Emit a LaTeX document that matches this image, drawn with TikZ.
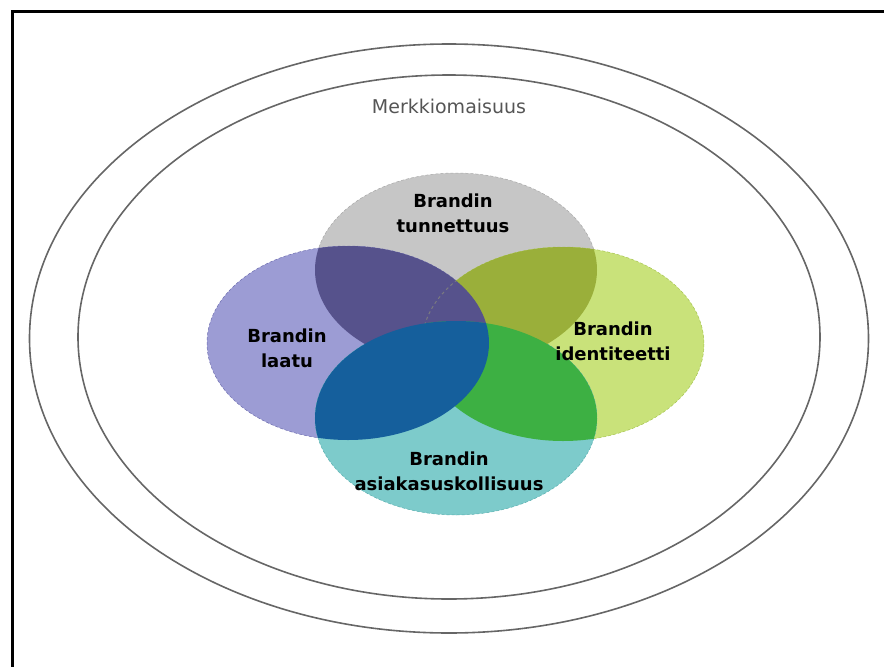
\documentclass[tikz,border=0pt]{standalone}
\usepackage{fontspec}
\setmainfont{DejaVu Sans}
\usepackage{tikz}
\definecolor{ringStroke}{HTML}{666666}
\definecolor{titleTxt}{HTML}{555555}
\definecolor{grayFill}{HTML}{C6C6C6}
\definecolor{grayStroke}{HTML}{A8A8A8}
\definecolor{purpleFill}{HTML}{9C9CD4}
\definecolor{purpleStroke}{HTML}{6E6EB0}
\definecolor{limeFill}{HTML}{C9E27A}
\definecolor{limeStroke}{HTML}{A6C450}
\definecolor{tealFill}{HTML}{7DCBCB}
\definecolor{tealStroke}{HTML}{5AB0B0}
\definecolor{plumFill}{HTML}{56528C}
\definecolor{plumStroke}{HTML}{7A7A80}
\definecolor{oliveFill}{HTML}{9AAF3A}
\definecolor{greenFill}{HTML}{3DB043}
\definecolor{navyFill}{HTML}{155F9C}
\tikzset{
  blob/.style={x radius=141, y radius=97},
  ring/.style={draw=ringStroke, line width=1.6pt},
  frame/.style={draw=black, line width=3pt},
  venntxt/.style={align=center, text=black,
    font=\bfseries\fontsize{18}{25}\selectfont},
  titletxt/.style={text=titleTxt, font=\fontsize{19}{22}\selectfont},
}

\begin{document}
\begin{tikzpicture}[x=1pt, y=-1pt]
    \useasboundingbox (0,0) rectangle (884,667);
    \draw[frame] (12.5,667) -- (12.5,11.5) -- (884,11.5);

    \draw[ring] (449,338.5) ellipse [x radius=419.5, y radius=294.5];
    \draw[ring] (449,337) ellipse [x radius=371, y radius=262];
    \node[titletxt, anchor=base] (merkki) at (449,113) {Merkkiomaisuus};

    \coordinate (cT) at (456,270);
    \coordinate (cL) at (348,343);
    \coordinate (cR) at (563,344);
    \coordinate (cB) at (456,418);

    \fill[grayFill, draw=grayStroke, densely dashed, line width=0.5pt] (cT) ellipse [blob];
    \fill[purpleFill, draw=purpleStroke, densely dashed, line width=0.5pt] (cL) ellipse [blob];
    \fill[limeFill, draw=limeStroke, densely dashed, line width=0.5pt] (cR) ellipse [blob];
    \fill[tealFill, draw=tealStroke, densely dashed, line width=0.5pt] (cB) ellipse [blob];

    \begin{scope}
      \clip (cT) ellipse [blob];
      \fill[oliveFill] (cR) ellipse [blob];
    \end{scope}
    \begin{scope}
      \clip (cT) ellipse [blob];
      \fill[plumFill] (cL) ellipse [blob];
      \clip (cL) ellipse [blob];
      \draw[plumStroke, dashed, line width=1pt] (cR) ellipse [blob];
    \end{scope}
    \begin{scope}
      \clip (cB) ellipse [blob];
      \fill[greenFill] (cR) ellipse [blob];
    \end{scope}
    \begin{scope}
      \clip (cB) ellipse [blob];
      \fill[navyFill] (cL) ellipse [blob];
    \end{scope}

    \node[venntxt] (tunn) at (453,213) {Brandin\\tunnettuus};
    \node[venntxt] (laatu) at (287,348) {Brandin\\laatu};
    \node[venntxt] (ident) at (613,341) {Brandin\\identiteetti};
    \node[venntxt] (uskoll) at (449,471) {Brandin\\asiakasuskollisuus};
  \end{tikzpicture}
\end{document}
